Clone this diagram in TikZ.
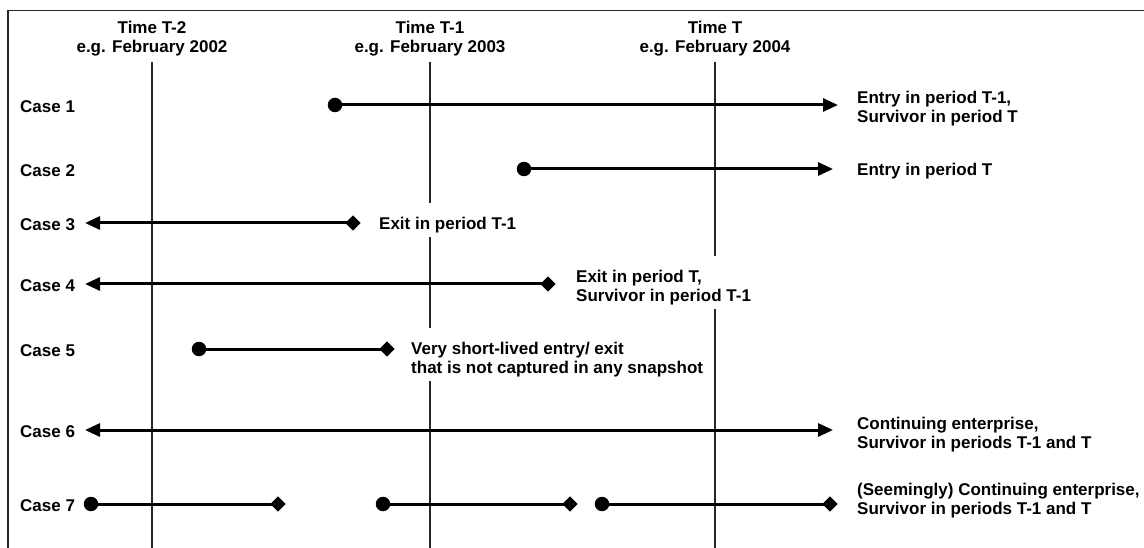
\documentclass[tikz,border=0pt]{standalone}
\usepackage{fontspec}
\setmainfont{Liberation Sans}
\usetikzlibrary{arrows.meta,shapes.geometric}
\newcommand\tallstrut{\rule{0pt}{22pt}}
\newcommand\hdrstrut{\rule{0pt}{13pt}}
\begin{document}
\begin{tikzpicture}[x=1pt,y=-1pt,
  >={Triangle[length=15pt,width=13pt]},
  frameline/.style={line width=1.2pt, black!85},
  timeline/.style={line width=1.3pt, black!85},
  conn/.style={line width=3pt, black},
  dot/.style={circle, fill=black, inner sep=0pt, minimum size=14.5pt},
  dia/.style={diamond, fill=black, inner sep=0pt, minimum width=15.5pt, minimum height=15.5pt},
  txt/.style={font=\fontsize{17}{19}\selectfont\bfseries, inner sep=0pt},
  hdr/.style={txt, anchor=north, align=center},
  caselbl/.style={txt, anchor=base west},
  lbl/.style={txt, anchor=north west, align=left, fill=white, inner xsep=3pt, inner ysep=4pt}]
\useasboundingbox (0,0) rectangle (1144,548);
% frame
\coordinate (fbl) at (8,548);
\coordinate (ftl) at (8,10.5);
\coordinate (ftr) at (1144,10.5);
\draw[frameline] (fbl) -- (ftl) -- (ftr);
% time lines
\node[hdr] (h2) at (152,20) {\hdrstrut Time T-2\\e.g. February 2002};
\node[hdr] (h1) at (430,20) {\hdrstrut Time T-1\\e.g. February 2003};
\node[hdr] (h0) at (715,20) {\hdrstrut Time T\\e.g. February 2004};
\coordinate (v2t) at (152,62); \coordinate (v2b) at (152,548);
\coordinate (v1t) at (430,62); \coordinate (v1b) at (430,548);
\coordinate (v0t) at (715,62); \coordinate (v0b) at (715,548);
\draw[timeline] (v2t) -- (v2b);
\draw[timeline] (v1t) -- (v1b);
\draw[timeline] (v0t) -- (v0b);
% case labels
\node[caselbl] (k1) at (20,112.5) {Case 1};
\node[caselbl] (k2) at (20,176.5) {Case 2};
\node[caselbl] (k3) at (20,230.5) {Case 3};
\node[caselbl] (k4) at (20,291.5) {Case 4};
\node[caselbl] (k5) at (20,356.5) {Case 5};
\node[caselbl] (k6) at (20,437.5) {Case 6};
\node[caselbl] (k7) at (20,511.5) {Case 7};
% case 1
\node[dot] (c1s) at (335,105) {};
\coordinate (c1e) at (838,105);
\draw[conn,->] (c1s.center) -- (c1e);
% case 2
\node[dot] (c2s) at (524,169) {};
\coordinate (c2e) at (833,169);
\draw[conn,->] (c2s.center) -- (c2e);
% case 3
\coordinate (c3s) at (85,223);
\node[dia] (c3e) at (353,223) {};
\draw[conn,<-] (c3s) -- (c3e.center);
% case 4
\coordinate (c4s) at (85,284);
\node[dia] (c4e) at (548,284) {};
\draw[conn,<-] (c4s) -- (c4e.center);
% case 5
\node[dot] (c5s) at (199,349) {};
\node[dia] (c5e) at (387,349) {};
\draw[conn] (c5s.center) -- (c5e.center);
% case 6
\coordinate (c6s) at (85,430);
\coordinate (c6e) at (833,430);
\draw[conn,<->] (c6s) -- (c6e);
% case 7
\node[dot] (c7as) at (91,504) {};
\node[dia] (c7ae) at (278,504) {};
\node[dot] (c7bs) at (383,504) {};
\node[dia] (c7be) at (570,504) {};
\node[dot] (c7cs) at (602,504) {};
\node[dia] (c7ce) at (830,504) {};
\draw[conn] (c7as.center) -- (c7ae.center);
\draw[conn] (c7bs.center) -- (c7be.center);
\draw[conn] (c7cs.center) -- (c7ce.center);
% right-hand labels
\node[lbl] (l1) at (854,77) {\tallstrut Entry in period T-1,\\Survivor in period T};
\node[lbl] (l2) at (854,149) {\tallstrut Entry in period T};
\node[lbl] (l3) at (376,203) {\tallstrut Exit in period T-1};
\node[lbl] (l4) at (573,256) {\tallstrut Exit in period T,\\Survivor in period T-1};
\node[lbl] (l5) at (408,328) {\tallstrut Very short-lived entry/ exit\\that is not captured in any snapshot};
\node[lbl] (l6) at (854,403) {\tallstrut Continuing enterprise,\\Survivor in periods T-1 and T};
\node[lbl] (l7) at (854,469) {\tallstrut (Seemingly) Continuing enterprise,\\Survivor in periods T-1 and T};
\end{tikzpicture}
\end{document}
